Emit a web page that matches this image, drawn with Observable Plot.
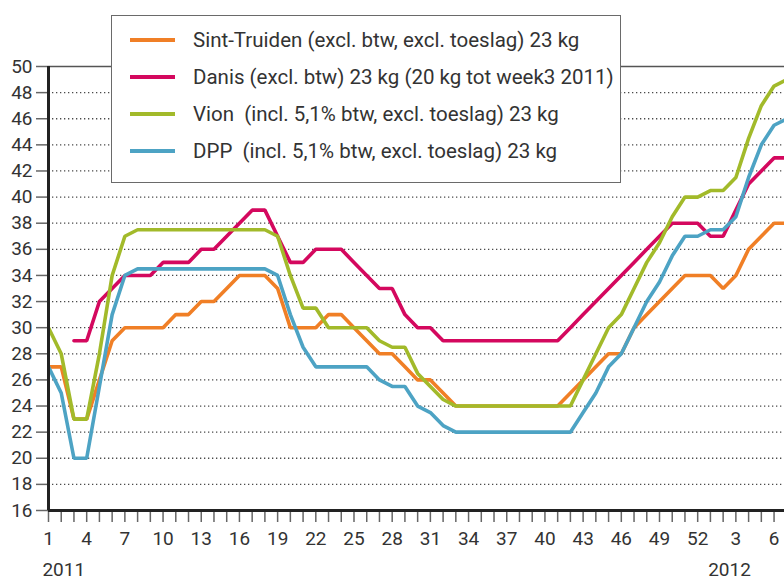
<!DOCTYPE html>
<html>
<head>
<meta charset="utf-8">
<script src="https://cdn.jsdelivr.net/npm/d3@7"></script>
<script src="https://cdn.jsdelivr.net/npm/@observablehq/plot@0.6"></script>
<style>
  html, body { margin: 0; padding: 0; background: #fff; }
  #wrap { position: relative; width: 784px; height: 582px; font-family: Roboto, "DejaVu Sans", sans-serif; }
  #legend {
    position: absolute; left: 111px; top: 15px; width: 508px; height: 166px;
    border: 1.5px solid #6a6a6a; background: #fff; box-sizing: content-box;
  }
  .item { position: absolute; left: 0; height: 30px; }
  .swatch { position: absolute; left: 18px; width: 45px; height: 4px; }
  .label { position: absolute; left: 81px; top: 0; white-space: pre; font-size: 20.5px; color: #333; line-height: 30px; }
</style>
</head>
<body>
<div id="wrap">
  <div id="chart"></div>
  <div id="legend"></div>
</div>
<script>
// Week index: 1..52 = 2011, 53..59 = weeks 1..7 of 2012
const weeks = d3.range(1, 60);

const seriesNames = ["Sint-Truiden", "Danis", "Vion", "DPP"];
const seriesLabels = [
  "Sint-Truiden (excl. btw, excl. toeslag) 23 kg",
  "Danis (excl. btw) 23 kg (20 kg tot week3 2011)",
  "Vion  (incl. 5,1% btw, excl. toeslag) 23 kg",
  "DPP  (incl. 5,1% btw, excl. toeslag) 23 kg"
];
const seriesColors = ["#f07f26", "#d4085e", "#a2ba2a", "#4da3c4"];

const sintTruiden = [27, 27, 23, 23, 26, 29, 30, 30, 30, 30,
  31, 31, 32, 32, 33, 34, 34, 34, 33, 30,
  30, 30, 31, 31, 30, 29, 28, 28, 27, 26,
  26, 25, 24, 24, 24, 24, 24, 24, 24, 24,
  24, 25, 26, 27, 28, 28, 30, 31, 32, 33,
  34, 34, 34, 33, 34, 36, 37, 38, 38];

const danis = [null, null, 29, 29, 32, 33, 34, 34, 34, 35,
  35, 35, 36, 36, 37, 38, 39, 39, 37, 35,
  35, 36, 36, 36, 35, 34, 33, 33, 31, 30,
  30, 29, 29, 29, 29, 29, 29, 29, 29, 29,
  29, 30, 31, 32, 33, 34, 35, 36, 37, 38,
  38, 38, 37, 37, 39, 41, 42, 43, 43];

const vion = [30, 28, 23, 23, 28, 34, 37, 37.5, 37.5, 37.5,
  37.5, 37.5, 37.5, 37.5, 37.5, 37.5, 37.5, 37.5, 37, 34,
  31.5, 31.5, 30, 30, 30, 30, 29, 28.5, 28.5, 26.5,
  25.5, 24.5, 24, 24, 24, 24, 24, 24, 24, 24,
  24, 24, 26, 28, 30, 31, 33, 35, 36.5, 38.5,
  40, 40, 40.5, 40.5, 41.5, 44.5, 47, 48.5, 49];

const dpp = [27, 25, 20, 20, 25.5, 31, 34, 34.5, 34.5, 34.5,
  34.5, 34.5, 34.5, 34.5, 34.5, 34.5, 34.5, 34.5, 34, 31,
  28.5, 27, 27, 27, 27, 27, 26, 25.5, 25.5, 24,
  23.5, 22.5, 22, 22, 22, 22, 22, 22, 22, 22,
  22, 22, 23.5, 25, 27, 28, 30, 32, 33.5, 35.5,
  37, 37, 37.5, 37.5, 38.5, 41.5, 44, 45.5, 46];

const seriesValues = [sintTruiden, danis, vion, dpp];

const yTicks = d3.range(16, 51, 2);
const gridValues = d3.range(18, 50, 2);
const xTickWeeks = d3.range(1, 59);
const xLabelWeeks = [1, 4, 7, 10, 13, 16, 19, 22, 25, 28, 31, 34, 37, 40, 43, 46, 49, 52, 55, 58];
const xLabels = ["1", "4", "7", "10", "13", "16", "19", "22", "25", "28", "31", "34", "37", "40", "43", "46", "49", "52", "3", "6"];
const yearNames = ["2011", "2012"];
const yearPositions = [2.2, 54.5];

const table = seriesNames.flatMap((name, s) =>
  weeks.map((w, i) => ({week: w, value: seriesValues[s][i], series: name}))
).filter(d => d.value != null);

const labelMap = new Map(xLabelWeeks.map((w, i) => [w, xLabels[i]]));

const chart = Plot.plot({
  width: 784,
  height: 582,
  marginLeft: 48,
  marginRight: 0,
  marginTop: 66,
  marginBottom: 72,
  x: {domain: [1, 58.82], axis: null},
  y: {domain: [16, 50], axis: null},
  color: {domain: seriesNames, range: seriesColors},
  style: {fontFamily: "Roboto, 'DejaVu Sans', sans-serif", fontSize: "19px", color: "#333", background: "#fff", overflow: "visible"},
  marks: [
    Plot.ruleY(gridValues, {stroke: "#4a4a4a", strokeWidth: 1.3, strokeDasharray: "1.3,2.7"}),
    Plot.ruleY([50], {stroke: "#555", strokeWidth: 1.6}),
    Plot.line(table, {x: "week", y: "value", z: "series", stroke: "series", strokeWidth: 3.6, clip: true, strokeLinejoin: "miter"}),
    Plot.axisY(yTicks, {anchor: "left", label: null, tickSize: 12, tickPadding: 4, stroke: "#666", strokeWidth: 1.5, fill: "#333", fontSize: 19}),
    Plot.axisX(xTickWeeks, {anchor: "bottom", label: null, tickSize: 12, tickPadding: 9, stroke: "#666", strokeWidth: 1.5, fill: "#333", fontSize: 19,
      tickFormat: d => labelMap.has(d) ? labelMap.get(d) : ""}),
    Plot.ruleX([1], {stroke: "#222", strokeWidth: 3}),
    Plot.ruleY([16], {stroke: "#222", strokeWidth: 3}),
    Plot.text(yearNames, {x: (d, i) => yearPositions[i], text: d => d, frameAnchor: "bottom", lineAnchor: "middle", dy: 59, fill: "#333", fontSize: 19})
  ]
});
document.getElementById("chart").appendChild(chart);

// Legend overlay
const legend = document.getElementById("legend");
const rowCenters = [24, 61, 98, 135];
seriesNames.forEach((name, i) => {
  const row = document.createElement("div");
  row.className = "item";
  row.style.top = (rowCenters[i] - 15) + "px";
  row.style.width = "100%";
  const sw = document.createElement("div");
  sw.className = "swatch";
  sw.style.background = seriesColors[i];
  sw.style.top = "13px";
  const lb = document.createElement("div");
  lb.className = "label";
  lb.textContent = seriesLabels[i];
  row.appendChild(sw);
  row.appendChild(lb);
  legend.appendChild(row);
});
</script>
</body>
</html>
